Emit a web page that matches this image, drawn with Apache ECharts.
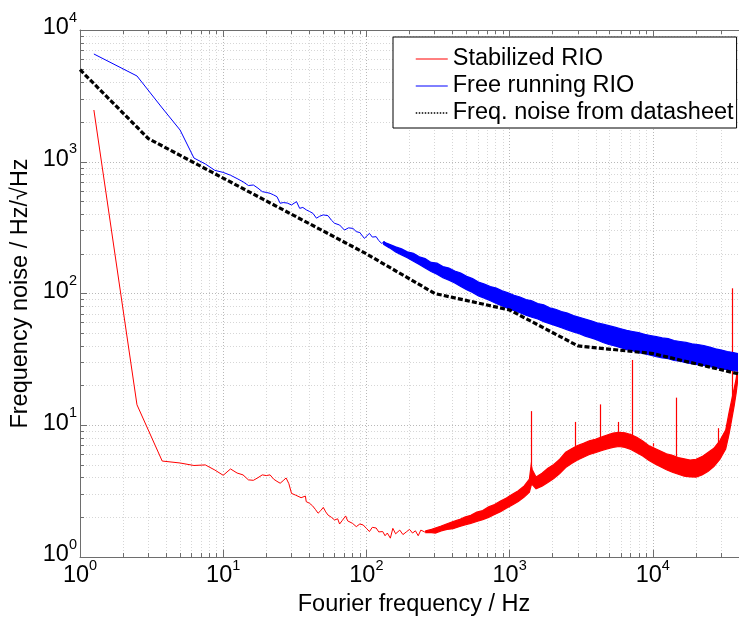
<!DOCTYPE html>
<html><head><meta charset="utf-8">
<script src="https://cdn.jsdelivr.net/npm/echarts@6/dist/echarts.min.js"></script>
<style>html,body{margin:0;padding:0;background:#fff}#c{width:739px;height:618px}</style>
</head><body><div id="c"></div>
<script>
// ---------------- data ----------------
const seriesNames = ['Stabilized RIO', 'Free running RIO', 'Freq. noise from datasheet'];
const xTitle = 'Fourier frequency / Hz';
const yTitle = 'Frequency noise / Hz/√Hz';

// Stabilized RIO - thin / jagged part
const redLineFreq = [1.25,2.5,3.75,5,6.25,7.5,8.75,10,11.25,12.5,13.75,15,16.25,17.5,18.75,20,21.25,22.5,23.75,25,26.25,27.5,28.75,30,32,33,35,36,37.5,38,40,42,44,46,48,50,52,54,57,60,63,65,68,71.6,74,76,80,85,90,95,100,105,110,117,122,130,135,140,147,153,160,171,180,190,200,210,220,230,240,255,270];
const redLineVal  = [2470,14.3,5.35,5.17,4.95,5.0,4.57,4.17,4.66,4.34,4.2,3.85,3.82,4.0,4.2,4.15,4.2,3.9,3.75,3.63,3.8,3.98,3.6,3.04,2.95,2.87,2.82,2.79,2.9,2.63,2.56,2.45,2.3,2.15,2.25,2.38,2.2,2.08,2.0,1.91,1.95,1.78,1.9,2.05,1.88,1.85,1.8,1.7,1.78,1.75,1.65,1.56,1.68,1.66,1.55,1.56,1.45,1.52,1.39,1.65,1.5,1.6,1.48,1.55,1.62,1.52,1.58,1.45,1.6,1.55,1.58];
// Stabilized RIO - dense noisy band (lower / upper envelope)
const redBandFreq = [260,285,303,333,366,403,443,487,536,590,649,714,785,864,950,1045,1150,1265,1375,1415,1440,1530,1683,1851,2036,2240,2464,2710,2981,3279,3607,3968,4365,4801,5281,5809,6390,7029,7732,8505,9356,10291,11320,12452,13698,15067,16574,18231,20054,22060,24266,26692,29362,32298,34100,35528,37000,38200,39000];
const redBandLo   = [1.53,1.53,1.52,1.58,1.62,1.64,1.70,1.75,1.80,1.86,1.92,2.0,2.1,2.21,2.35,2.48,2.64,2.85,3.1,3.5,3.55,3.3,3.45,3.68,3.95,4.3,4.78,5.12,5.45,5.72,6.0,6.18,6.4,6.62,6.8,6.9,6.8,6.55,6.2,5.85,5.42,5.1,4.85,4.6,4.4,4.25,4.1,4.05,4.04,4.2,4.45,4.85,5.5,6.6,8.6,11,14,17.5,21];
const redBandHi   = [1.58,1.62,1.66,1.72,1.79,1.86,1.92,2.01,2.07,2.19,2.25,2.4,2.5,2.66,2.8,2.99,3.18,3.46,3.9,5.0,4.6,4.05,4.33,4.72,5.03,5.52,6.25,6.62,7.02,7.28,7.62,7.83,8.12,8.43,8.72,8.83,8.77,8.48,8.12,7.58,7.02,6.68,6.37,6.08,5.92,5.68,5.56,5.44,5.52,5.78,6.22,6.68,7.62,9.2,12.5,15.5,19,22.5,26];
// Stabilized RIO - narrow spurs
const redSpurFreq = [1426,2880,4296,5740,7213,10100,14490,28700,35950];
const redSpurBase = [4.0,6.5,7.9,8.9,8.0,6.9,5.8,6.5,15];
const redSpurPeak = [12.8,10.6,14.4,10.6,31.3,7.3,16.2,9.5,109.5];

// Free running RIO - thin / jagged part
const blueLineFreq = [1.25,2.5,3.75,5,6.25,7.5,8.75,10,11.25,12.5,13.75,15,16.25,17.5,18.75,20,21.25,22.5,23.75,25,26.25,28,30,32.5,34.2,36,38.1,40,42.3,44.8,47,49.9,53.9,57,60,65,70.3,75,80.5,85,90,96.8,105,110,117,122,128,134,140];
const blueLineVal  = [6575,4477,2560,1741,1067,962,860,830,790,745,705,660,666,630,593,585,576,560,543,484,490,486,470,498,443,450,431,420,406,373,385,395,390,360,341,331,303,315,312,295,290,262,286,268,270,252,240,248,228];
// Free running RIO - dense noisy band
const blueBandFreq = [132,145,160,176,193,213,234,257,283,311,342,377,414,456,501,551,606,667,734,807,888,977,1075,1182,1300,1430,1573,1731,1904,2094,2303,2534,2787,3066,3373,3710,4081,4489,4938,5432,5975,6573,7230,7953,8748,9623,10585,11644,12808,14089,15498,17048,18753,20628,22691,24960,27456,30201,33221,36543,39000];
const blueBandLo   = [236,222,207,196,187,176,166,156,147,140,132,126,120,113,107,102,96,92,88,84,80.5,77,74,71.5,68.5,66,64,61,59,57,55,53,51,49.5,47.5,46,44.5,42.5,41,40,38.8,37.5,36.8,35.5,35,34,33.2,32.5,32,31,30.6,29.8,29.3,28.8,28.5,27.8,27.4,26.8,26.4,26,25.8];
const blueBandHi   = [246,236,226,218,207,202,190,184,172,170,160,156,148,143,135,130,122,118,113,110,105,101,97,94,90,88,84,82,78,76,73,71,68,66,64,62,60,58.5,57,55.5,54,52.5,51.5,50.5,49,48,47,46,45.5,44,43.2,42.5,41.5,41,40.3,39.2,38,37.2,36.3,35.6,35];

// Frequency noise from datasheet
const sheetFreq = [1,3,100,300,1000,3000,10000,40000];
const sheetVal  = [5000,1500,200,100,75,40,35,24.5];

// axis ranges and tick decades
const xRange = [1, 40000];
const yRange = [1, 10000];
const minorMult = [2,3,4,5,6,7,8,9];
const xDecades = [1,10,100,1000,10000];
const yDecades = [1,10,100,1000];

// ---------------- chart ----------------
const FONT = "'Liberation Sans', Arial, Helvetica, sans-serif";
const FS = 23.5;
const pair = (fs, vs) => fs.map((f, i) => [f, vs[i]]);

const minorX = [], minorY = [];
xDecades.forEach(d => minorMult.forEach(m => { if (m * d < xRange[1]) minorX.push(m * d); }));
yDecades.forEach(d => minorMult.forEach(m => { if (m * d < yRange[1]) minorY.push(m * d); }));

const gridLines = [];
minorX.forEach(x => gridLines.push([{coord: [x, yRange[0]]}, {coord: [x, yRange[1]]}]));
minorY.forEach(y => gridLines.push([{coord: [xRange[0], y]}, {coord: [xRange[1], y]}]));

const tkx = Math.pow(10, 4 / 143.3), tky = Math.pow(10, 4 / 131.75);
const minorTicks = [];
minorX.forEach(x => {
  minorTicks.push([{coord: [x, yRange[0]]}, {coord: [x, yRange[0] * tky]}]);
  minorTicks.push([{coord: [x, yRange[1] / tky]}, {coord: [x, yRange[1]]}]);
});
minorY.forEach(y => minorTicks.push([{coord: [xRange[0], y]}, {coord: [xRange[0] * tkx, y]}]));

const spurLines = redSpurFreq.map((f, i) => [{coord: [f, redSpurBase[i]]}, {coord: [f, redSpurPeak[i]]}]);

function supLabel(v) {
  const e = Math.round(Math.log10(v));
  if (Math.abs(Math.pow(10, e) - v) > 1e-6 * v) return '';
  return '{b|10}{s|' + e + '}';
}
const rich = {
  b: {fontSize: FS, lineHeight: 26, fontFamily: FONT, color: '#000', verticalAlign: 'bottom'},
  s: {fontSize: 14.5, lineHeight: 16, fontFamily: FONT, color: '#000', verticalAlign: 'bottom', padding: [0, 0, 15, 0]}
};

function band(name, fs, lo, hi, color, z) {
  return {
    type: 'custom', name: name, coordinateSystem: 'cartesian2d', silent: true, z: z,
    data: [[fs[0], lo[0]]],
    renderItem: function (params, api) {
      const pts = [];
      for (let i = 0; i < fs.length; i++) pts.push(api.coord([fs[i], hi[i]]));
      for (let i = fs.length - 1; i >= 0; i--) pts.push(api.coord([fs[i], lo[i]]));
      return {type: 'polygon', shape: {points: pts}, style: {fill: color, stroke: color, lineWidth: 1.2}};
    }
  };
}

const axisGray = '#6e6e6e';
const chart = echarts.init(document.getElementById('c'));
chart.setOption({
  animation: false,
  backgroundColor: '#fff',
  grid: {left: 80, top: 30, width: 660, height: 527, containLabel: false},
  xAxis: [{
    type: 'log', logBase: 10, min: xRange[0], max: xRange[1], position: 'bottom',
    axisLine: {show: true, lineStyle: {color: axisGray, width: 1}},
    axisTick: {show: true, inside: true, length: 7, lineStyle: {color: axisGray}},
    splitLine: {show: true, lineStyle: {color: '#b8b8b8', type: [1, 2], width: 1}},
    axisLabel: {formatter: supLabel, rich: rich, margin: 5, showMaxLabel: false}
  }, {
    type: 'log', logBase: 10, min: xRange[0], max: xRange[1], position: 'top',
    axisLine: {show: true, lineStyle: {color: axisGray, width: 1}},
    axisTick: {show: true, inside: true, length: 7, lineStyle: {color: axisGray}},
    splitLine: {show: false}, axisLabel: {show: false}
  }],
  yAxis: {
    type: 'log', logBase: 10, min: yRange[0], max: yRange[1],
    axisLine: {show: true, lineStyle: {color: axisGray, width: 1}},
    axisTick: {show: true, inside: true, length: 7, lineStyle: {color: axisGray}},
    splitLine: {show: true, lineStyle: {color: '#b8b8b8', type: [1, 2], width: 1}},
    axisLabel: {formatter: supLabel, rich: rich, margin: 3, padding: [0, 0, 6, 0]}
  },
  graphic: [
    {type: 'text', x: 414, y: 593, silent: true,
      style: {text: xTitle, fontSize: FS, fontFamily: FONT, fill: '#000', textAlign: 'center', textVerticalAlign: 'top'}},
    {type: 'text', x: 21, y: 293.5, rotation: Math.PI / 2, silent: true,
      style: {text: yTitle, fontSize: FS, fontFamily: FONT, fill: '#000', textAlign: 'center', textVerticalAlign: 'middle'}}
  ],
  legend: {
    orient: 'vertical', left: 393, top: 37,
    padding: [10, 3, 3, 22], itemGap: 3, itemWidth: 32, itemHeight: 14,
    backgroundColor: '#fff', borderColor: '#000', borderWidth: 1, borderRadius: 0,
    textStyle: {fontSize: FS, fontFamily: FONT, color: '#000', lineHeight: 24},
    itemStyle: {opacity: 0},
    data: [
      {name: seriesNames[0], lineStyle: {width: 1, color: '#ff0000'}},
      {name: seriesNames[1], lineStyle: {width: 1, color: '#0000ff'}},
      {name: seriesNames[2], lineStyle: {width: 1.5, color: '#000', type: [1.5, 1.5]}}
    ]
  },
  series: [
    {
      type: 'line', name: 'grid-minor', data: [[1, 1]], symbol: 'none', silent: true, z: 1,
      lineStyle: {opacity: 0},
      markLine: {silent: true, symbol: ['none', 'none'], label: {show: false}, animation: false, z: 1,
        lineStyle: {color: '#d6d6d6', type: [1, 2], width: 1}, data: gridLines}
    },
    {
      type: 'line', name: 'ticks-minor', data: [[1, 1]], symbol: 'none', silent: true, z: 1,
      lineStyle: {opacity: 0},
      markLine: {silent: true, symbol: ['none', 'none'], label: {show: false}, animation: false, z: 2,
        lineStyle: {color: axisGray, type: 'solid', width: 1}, data: minorTicks}
    },
    {
      type: 'line', name: seriesNames[0], data: pair(redLineFreq, redLineVal), symbol: 'none', z: 3,
      lineStyle: {color: '#ff0000', width: 1}, itemStyle: {color: '#ff0000'},
      markLine: {silent: true, symbol: ['none', 'none'], label: {show: false}, animation: false, z: 3,
        lineStyle: {color: '#ff0000', type: 'solid', width: 1.2}, data: spurLines}
    },
    band('redBand', redBandFreq, redBandLo, redBandHi, '#ff0000', 3),
    {
      type: 'line', name: seriesNames[1], data: pair(blueLineFreq, blueLineVal), symbol: 'none', z: 4,
      lineStyle: {color: '#0000ff', width: 1}, itemStyle: {color: '#0000ff'}
    },
    band('blueBand', blueBandFreq, blueBandLo, blueBandHi, '#0000ff', 4),
    {
      type: 'line', name: seriesNames[2], data: pair(sheetFreq, sheetVal), symbol: 'none', z: 5,
      lineStyle: {color: '#000', width: 3.2, type: [5, 2.2]}, itemStyle: {color: '#000'}
    }
  ]
});
</script></body></html>
